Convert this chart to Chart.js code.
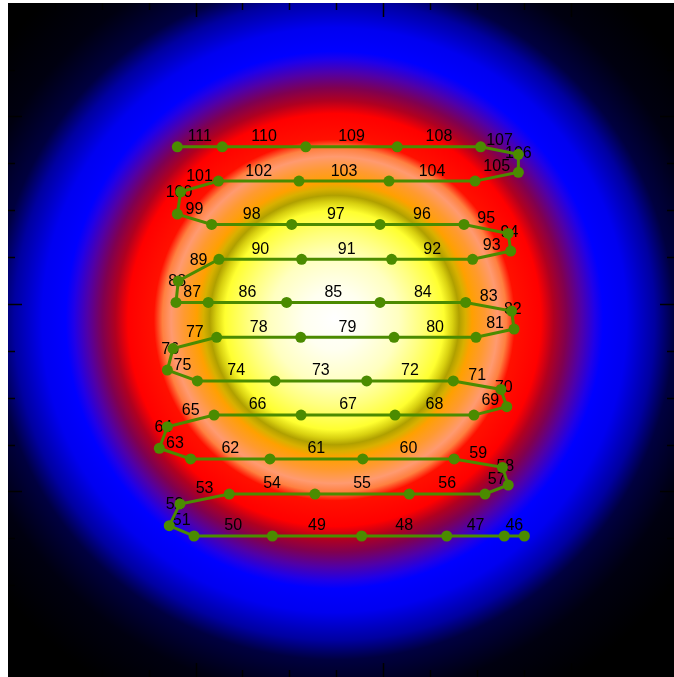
<!DOCTYPE html>
<html><head><meta charset="utf-8">
<script src="https://cdn.jsdelivr.net/npm/chart.js@4.4.1/dist/chart.umd.min.js"></script>
<style>html,body{margin:0;padding:0;background:#fff;overflow:hidden;} canvas{display:block;}</style>
</head><body>
<canvas id="c" width="674" height="677"></canvas>
<script>
// Path points (data units)
const pointX = [2.754,2.647,2.340,1.886,1.410,0.992,0.860,0.917,1.180,1.637,2.140,2.544,2.668,2.637,2.379,1.892,1.397,0.974,0.807,0.850,1.099,1.563,2.064,2.485,2.660,2.629,2.375,1.913,1.424,1.010,0.850,0.880,1.113,1.561,2.059,2.496,2.699,2.686,2.441,1.984,1.486,1.068,0.896,0.908,1.125,1.566,2.046,2.478,2.681,2.668,2.432,1.984,1.513,1.086,0.903,0.921,1.122,1.552,2.032,2.491,2.722,2.722,2.521,2.076,1.588,1.143,0.903];
const pointY = [0.762,0.762,0.762,0.762,0.762,0.762,0.817,0.933,0.986,0.986,0.986,0.986,1.034,1.128,1.173,1.173,1.173,1.173,1.230,1.345,1.407,1.407,1.407,1.407,1.452,1.544,1.589,1.589,1.589,1.589,1.647,1.762,1.822,1.822,1.822,1.822,1.866,1.962,2.008,2.008,2.008,2.008,2.008,2.122,2.238,2.238,2.238,2.238,2.282,2.376,2.424,2.424,2.424,2.424,2.479,2.598,2.655,2.655,2.655,2.655,2.702,2.798,2.838,2.838,2.838,2.838,2.838];
// Segment labels (label i sits on segment i -> i+1)
const segmentLabels = [];
for (let n = 46; n <= 111; n++) segmentLabels.push(String(n));
// Tick values
const xTickValues = [0.25,0.5,0.75,1,1.25,1.5,1.75,2,2.25,2.5,2.75,3,3.25,3.5];
const yTickValues = [0.25,0.5,0.75,1,1.25,1.5,1.75,2,2.25,2.5,2.75,3,3.25,3.5];
const majorTickValues = [1,2,3];
// Heat field centre (data units)
const heatCenter = [1.741, 1.914];
const heatRadius = 2.293;
const heatStops = [
  [0.00,'#ffffff'],[0.07,'#fffff0'],[0.15,'#ffffc0'],[0.20,'#ffff80'],[0.255,'#ffff30'],
  [0.275,'#d8d010'],[0.29,'#b0a000'],[0.305,'#d8b000'],[0.32,'#ffa000'],[0.35,'#ff9a30'],
  [0.38,'#ff9a70'],[0.40,'#ff8040'],[0.42,'#ff1000'],[0.48,'#ff0000'],[0.51,'#b00020'],
  [0.54,'#800050'],[0.575,'#5000a8'],[0.605,'#2000e8'],[0.625,'#0000ff'],[0.68,'#0000f0'],
  [0.745,'#0000a0'],[0.79,'#000040'],[0.88,'#000010'],[1.0,'#000000']
];

const GREEN = '#4b8b00';

const heatPlugin = {
  id: 'heat',
  beforeDatasetsDraw(chart) {
    const {ctx, chartArea: a, scales: {x, y}} = chart;
    ctx.save();
    ctx.beginPath(); ctx.rect(a.left, a.top, a.right - a.left, a.bottom - a.top); ctx.clip();
    const cx = x.getPixelForValue(heatCenter[0]);
    const cy = y.getPixelForValue(heatCenter[1]);
    const R = x.getPixelForValue(heatCenter[0] + heatRadius) - cx;
    const g = ctx.createRadialGradient(cx, cy, 0, cx, cy, R);
    heatStops.forEach(s => g.addColorStop(s[0], s[1]));
    ctx.fillStyle = g;
    ctx.fillRect(a.left, a.top, a.right - a.left, a.bottom - a.top);
    // inward ticks
    ctx.strokeStyle = '#000'; ctx.lineWidth = 1.5;
    xTickValues.forEach(v => {
      const px = Math.round(x.getPixelForValue(v)) + 0.5;
      const len = majorTickValues.includes(v) ? 14 : 7;
      ctx.beginPath(); ctx.moveTo(px, a.top); ctx.lineTo(px, a.top + len);
      ctx.moveTo(px, a.bottom); ctx.lineTo(px, a.bottom - len); ctx.stroke();
    });
    yTickValues.forEach(v => {
      const py = Math.round(y.getPixelForValue(v)) + 0.5;
      const len = majorTickValues.includes(v) ? 14 : 7;
      ctx.beginPath(); ctx.moveTo(a.left, py); ctx.lineTo(a.left + len, py);
      ctx.moveTo(a.right, py); ctx.lineTo(a.right - len, py); ctx.stroke();
    });
    // segment labels
    ctx.fillStyle = '#000';
    ctx.font = '16px "Liberation Sans", Arial, sans-serif';
    ctx.textAlign = 'center'; ctx.textBaseline = 'middle';
    segmentLabels.forEach((t, i) => {
      const mx = (x.getPixelForValue(pointX[i]) + x.getPixelForValue(pointX[i+1])) / 2;
      const my = (y.getPixelForValue(pointY[i]) + y.getPixelForValue(pointY[i+1])) / 2;
      ctx.fillText(t, mx, my - 10);
    });
    ctx.restore();
  }
};

new Chart(document.getElementById('c'), {
  type: 'scatter',
  data: { datasets: [{
    data: pointX.map((v, i) => ({x: v, y: pointY[i]})),
    showLine: true, borderColor: GREEN, backgroundColor: GREEN,
    pointRadius: 5.5, pointHoverRadius: 5.5, pointBorderWidth: 0, borderWidth: 3, tension: 0
  }]},
  options: {
    responsive: false, animation: false, devicePixelRatio: 1,
    layout: {autoPadding: false, padding: {left: 8, top: 3, right: 0, bottom: 0}},
    plugins: {legend: {display: false}, tooltip: {enabled: false}},
    scales: {
      x: {type: 'linear', display: false, min: 0, max: 3.552},
      y: {type: 'linear', display: false, min: 0.01, max: 3.605}
    }
  },
  plugins: [heatPlugin]
});
</script>
</body></html>
